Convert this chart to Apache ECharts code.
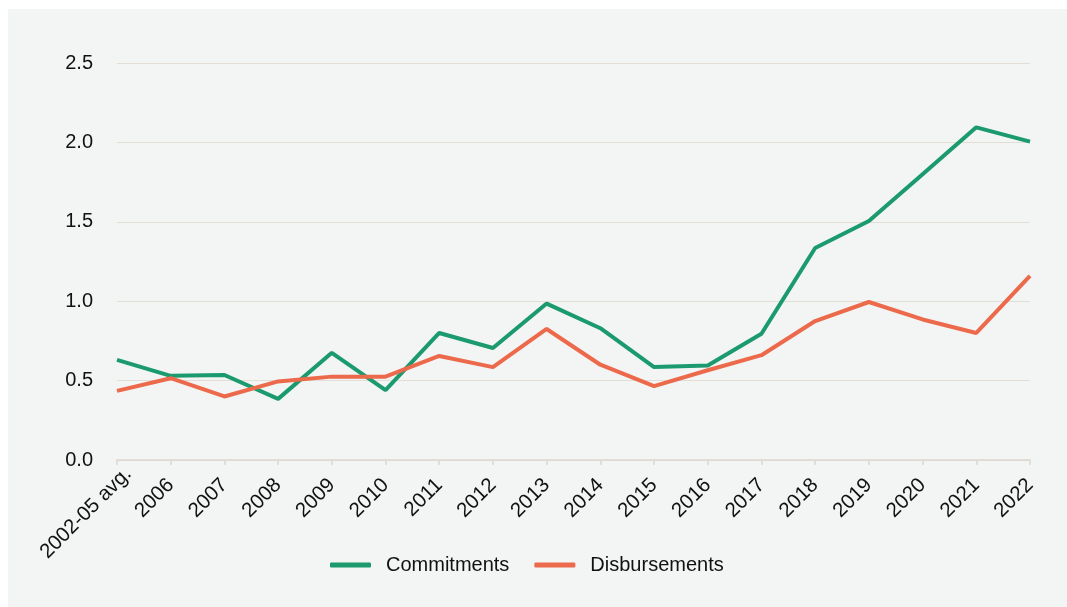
<!DOCTYPE html>
<html>
<head>
<meta charset="utf-8">
<script src="https://cdn.jsdelivr.net/npm/echarts@6/dist/echarts.min.js"></script>
<style>
  html, body { margin: 0; padding: 0; background: #ffffff; }
  #chart { position: absolute; left: 8px; top: 9px; width: 1059px; height: 598px; background: #f2f5f4; }
</style>
</head>
<body>
<div id="chart"></div>
<script>
// Years on the x axis
const categories = ['2002-05 avg.', '2006', '2007', '2008', '2009', '2010', '2011', '2012', '2013',
  '2014', '2015', '2016', '2017', '2018', '2019', '2020', '2021', '2022'];

// Annual amounts
const commitments = [0.63, 0.53, 0.535, 0.385, 0.675, 0.44, 0.80, 0.705, 0.985,
  0.83, 0.585, 0.595, 0.795, 1.335, 1.505, 1.80, 2.095, 2.005];
const disbursements = [0.435, 0.515, 0.40, 0.495, 0.525, 0.525, 0.655, 0.585, 0.825,
  0.60, 0.465, 0.565, 0.66, 0.875, 0.995, 0.885, 0.80, 1.16];

const seriesNames = ['Commitments', 'Disbursements'];

const font = 'Liberation Sans, Arial, Helvetica, sans-serif';
const chart = echarts.init(document.getElementById('chart'), null, { renderer: 'canvas' });

// The long averaged-period label sits a little further along its slant
const xData = categories.map((c, i) => i === 0
  ? { value: c, textStyle: { padding: [0, -16, 0, 0] } }
  : c);

chart.setOption({
  backgroundColor: '#f2f5f4',
  animation: false,
  grid: { left: 109, right: 37, top: 54, bottom: 147, containLabel: false },
  legend: {
    data: seriesNames,
    left: 317,
    top: 541,
    icon: 'roundRect',
    itemWidth: 41,
    itemHeight: 5,
    itemGap: 25,
    textStyle: { fontFamily: font, fontSize: 20, color: '#111', padding: [0, 0, 0, 10] }
  },
  xAxis: {
    type: 'category',
    data: xData,
    boundaryGap: false,
    axisLine: { lineStyle: { color: '#ddd8cf', width: 1.5 } },
    axisTick: { show: true, length: 5, lineStyle: { color: '#ddd8cf', width: 1.5 } },
    axisLabel: {
      rotate: 45,
      interval: 0,
      margin: 22,
      fontFamily: font,
      fontSize: 20.5,
      color: '#111'
    },
    splitLine: { show: false }
  },
  yAxis: {
    type: 'value',
    min: 0,
    max: 2.5,
    interval: 0.5,
    axisLine: { show: false },
    axisTick: { show: false },
    axisLabel: {
      margin: 24,
      fontFamily: font,
      fontSize: 20,
      color: '#111',
      formatter: v => v.toFixed(1)
    },
    splitLine: { lineStyle: { color: '#e2ddd5', width: 1.2 } }
  },
  series: [
    {
      name: seriesNames[0],
      type: 'line',
      data: commitments,
      showSymbol: false,
      itemStyle: { color: '#1b9a6e' },
      lineStyle: { color: '#1b9a6e', width: 4 }
    },
    {
      name: seriesNames[1],
      type: 'line',
      data: disbursements,
      showSymbol: false,
      itemStyle: { color: '#ec6a4b' },
      lineStyle: { color: '#ec6a4b', width: 4 }
    }
  ]
});
</script>
</body>
</html>
